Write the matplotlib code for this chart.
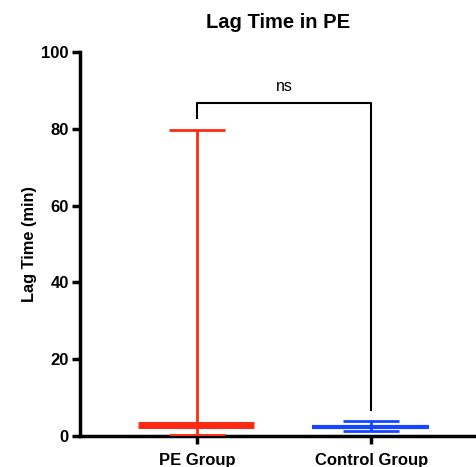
import matplotlib
matplotlib.use("Agg")
import matplotlib.pyplot as plt

plt.rcParams["font.family"] = ["Liberation Sans", "DejaVu Sans"]

groups = ["PE Group", "Control Group"]
centers = [2.9, 2.4]
upper = [79.7, 3.9]
lower = [0.3, 1.3]
colors = ["#ff2a12", "#1447ff"]
yticks = [0, 20, 40, 60, 80, 100]

fig = plt.figure(figsize=(4.76, 4.67), dpi=100)
ax = fig.add_axes([0.168, 0.0664, 0.832, 0.8223])

xs = [0, 1]
mean_lw = [5, 3]
for x, c, u, l, col, mlw in zip(xs, centers, upper, lower, colors, mean_lw):
    ax.plot([x, x], [l, u], color=col, lw=2, solid_capstyle="butt", zorder=3)
    ax.plot([x - 0.16, x + 0.16], [u, u], color=col, lw=2, solid_capstyle="butt", zorder=3)
    ax.plot([x - 0.16, x + 0.16], [l, l], color=col, lw=2, solid_capstyle="butt", zorder=3)
    ax.plot([x - 0.34, x + 0.33], [c, c], color=col, lw=mlw, solid_capstyle="butt", zorder=4)

# significance bracket
ax.plot([0, 0, 1, 1], [82.8, 86.7, 86.7, 6.8], color="black", lw=1.5, zorder=2)
ax.text(0.5, 89.0, "ns", ha="center", va="bottom", fontsize=11.5)

ax.set_xlim(-0.67, 0.6 + 1)
ax.set_ylim(0, 100)
ax.set_yticks(yticks)
ax.set_xticks(xs)
ax.set_xticklabels(groups, fontweight="bold", fontsize=12)
for lab in ax.get_yticklabels():
    lab.set_fontweight("bold")
    lab.set_fontsize(12)
ax.spines["top"].set_visible(False)
ax.spines["right"].set_visible(False)
ax.spines["left"].set_linewidth(2.5)
ax.spines["bottom"].set_linewidth(2.5)
ax.tick_params(axis="y", direction="out", length=6, width=2.5, pad=2)
ax.tick_params(axis="x", direction="out", length=6, width=2.5, pad=6)
ax.set_ylabel("Lag Time (min)", fontweight="bold", fontsize=11.8, labelpad=3)
ax.set_title("Lag Time in PE", fontweight="bold", fontsize=14.5, pad=17)

fig.savefig("out.png", dpi=100)
